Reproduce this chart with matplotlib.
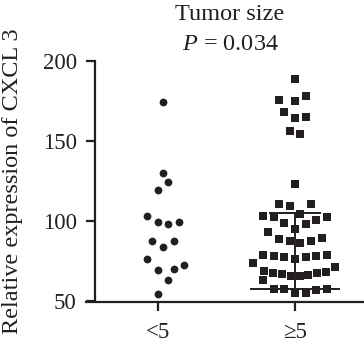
import matplotlib
matplotlib.use("Agg")
import matplotlib.pyplot as plt
import numpy as np

plt.rcParams['font.family'] = ['Liberation Serif', 'DejaVu Serif']
plt.rcParams['mathtext.fontset'] = 'custom'
plt.rcParams['mathtext.it'] = 'Liberation Serif:italic'
plt.rcParams['mathtext.rm'] = 'Liberation Serif'

categories = ["<5", "\u22655"]
title = "Tumor size"
p_text = "P = 0.034"
ylabel = "Relative expression of CXCL 3"
yticks = [50, 100, 150, 200]

# group "<5" values and horizontal jitter (in half-marker steps)
g1_values = [174.2, 129.8, 124.6, 119.4, 103.3, 99.6, 98.3, 99.4, 87.7, 87.5,
             83.5, 76.5, 69.6, 69.8, 72.7, 63.3, 54.6]
g1_steps = [1, 1, 2, 0, -2, 0, 2, 4, -1, 3, 1, -2, 0, 3, 5, 2, 0]

# group ">=5" values and horizontal jitter
g2_values = [188.6, 175.8, 175.2, 178.3, 168.1, 164.2, 165.0, 156.4, 154.4, 123.3,
             110.6, 109.6, 110.6,
             103.3, 102.3, 104.6, 102.7,
             98.5, 98.3, 100.6,
             93.3, 95.2,
             88.9, 87.5, 86.0, 87.7, 89.2,
             78.6, 78.1, 77.7, 76.4, 77.5, 78.1, 78.6,
             74.0,
             68.9, 67.8, 66.7, 65.6, 65.4, 66.2, 67.2, 68.0, 71.25,
             63.0,
             57.2, 57.2, 54.8, 54.8, 56.8, 57.4]
g2_steps = [0, -3, 0, 2, -2, 0, 2, -1, 1, 0,
            -3, -1, 3,
            -6, -4, 1, 6,
            -2, 2, 4,
            -5, 0,
            -3, -1, 1, 3, 5,
            -6, -4, -2, 0, 2, 4, 6,
            -7.8,
            -5.8, -4.1, -2.5, -0.75, 0.85, 2.5, 4.2, 5.8, 7.5,
            -6,
            -4, -2, 0, 2, 4, 6]

# summary lines for group ">=5"
g2_low = 57.5
g2_high = 105.3

step = 0.0388
color = "#231f20"

fig = plt.figure(figsize=(3.64, 3.47), dpi=100)
ax = fig.add_axes([86/364, (347-301.7)/347, (363-86)/364, (301.7-61)/347])

x1 = 0 + np.array(g1_steps) * step
x2 = 1 + np.array(g2_steps) * step
ax.plot(x1, g1_values, 'o', ms=5.6, color=color, mec=color, mew=0, zorder=3)
ax.plot(x2, g2_values, 's', ms=5.1, color=color, mec=color, mew=0, zorder=3)

lw = 1.4
ax.plot([1 - 0.32, 1 + 0.32], [g2_low, g2_low], color=color, lw=lw, zorder=2)
ax.plot([1 - 0.18, 1 + 0.18], [g2_high, g2_high], color=color, lw=lw, zorder=2)
ax.plot([1, 1], [g2_low, g2_high], color=color, lw=lw, zorder=2)

ax.set_xlim(-0.522, 1.495)
ax.set_ylim(50 - 0.7/1.6, 200)

for s in ['top', 'right']:
    ax.spines[s].set_visible(False)
ax.spines['left'].set_position(('data', -0.455))
ax.spines['left'].set_bounds(50, 200)
for s in ['left', 'bottom']:
    ax.spines[s].set_linewidth(1.6)
    ax.spines[s].set_color(color)

ax.set_yticks(yticks)
ax.set_yticklabels([str(v) for v in yticks])
ax.set_xticks([0, 1])
ax.set_xticklabels(categories)
ax.tick_params(axis='both', length=6.3, width=1.6, color=color, labelsize=16.5,
               labelcolor=color)
ax.tick_params(axis='y', pad=7)
ax.tick_params(axis='x', pad=8)

ax.set_ylabel(ylabel, fontsize=17.5, color=color)
ax.yaxis.set_label_coords(-(86 - 13) / (363 - 86) - 0.0, 0.5)
ax.yaxis.label.set_va('center')

fig.text(230/364, 1 - 14/347, title, ha='center', va='center', fontsize=17.5, color=color)
fig.text(230/364, 1 - 44/347, r"$P$ = 0.034", ha='center', va='center', fontsize=17.5, color=color)

fig.savefig("out.png", dpi=100)
